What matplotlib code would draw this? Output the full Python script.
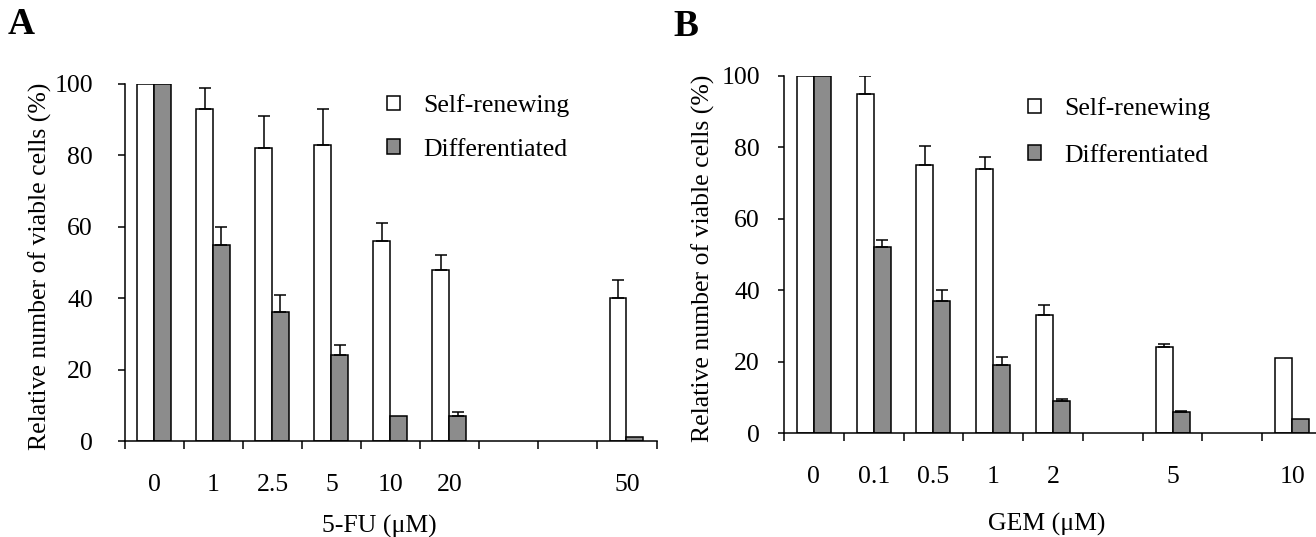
import numpy as np
import matplotlib
matplotlib.use("Agg")
import matplotlib.pyplot as plt
from matplotlib.patches import Patch

plt.rcParams['font.family'] = ['Liberation Serif', 'DejaVu Serif']

# ---------------- data ----------------
cats_a = ["0", "1", "2.5", "5", "10", "20", "", "", "50"]
self_a = [100, 93, 82, 83, 56, 48, None, None, 40]
self_a_err = [0, 6, 9, 10, 5, 4, None, None, 5]
diff_a = [100, 55, 36, 24, 7, 7, None, None, 1]
diff_a_err = [0, 5, 5, 3, 0, 1, None, None, 0]

cats_b = ["0", "0.1", "0.5", "1", "2", "", "5", "", "10"]
self_b = [100, 95, 75, 74, 33, None, 24, None, 21]
self_b_err = [0, 5, 5.3, 3.3, 2.8, None, 1, None, 0]
diff_b = [100, 52, 37, 19, 9, None, 6, None, 3.8]
diff_b_err = [0, 2.2, 3, 2.2, 0.4, None, 0.3, None, 0]

xlabel_a = "5-FU (μM)"
xlabel_b = "GEM (μM)"
ylabel = "Relative number of viable cells (%)"
legend_labels = ["Self-renewing", "Differentiated"]
yticks = [0, 20, 40, 60, 80, 100]

GRAY = '#8c8c8c'
FS = 18.5
LW = 1.1


def draw(ax, cats, s, se, d, de, xlabel, center, lab_x, lab_y, leg_anchor,
         ypad, ylen, lspace):
    n = len(cats)
    w = 0.285
    for i in range(n):
        xc = i + center
        if s[i] is not None:
            ax.bar(xc - w / 2, s[i], w, color='white', edgecolor='black', linewidth=LW, zorder=2)
            if se[i]:
                ax.errorbar(xc - w / 2, s[i], yerr=[[0], [se[i]]], fmt='none', ecolor='black',
                            elinewidth=LW, capsize=4.3, capthick=LW, zorder=3)
        if d[i] is not None:
            ax.bar(xc + w / 2, d[i], w, color=GRAY, edgecolor='black', linewidth=LW, zorder=2)
            if de[i]:
                ax.errorbar(xc + w / 2, d[i], yerr=[[0], [de[i]]], fmt='none', ecolor='black',
                            elinewidth=LW, capsize=4.3, capthick=LW, zorder=3)
    ax.set_xlim(0, n)
    ax.set_ylim(0, 100)
    ax.set_yticks(yticks)
    ax.set_xticks(np.arange(0, n + 1))
    ax.set_xticklabels([])
    ax.set_xticks(np.arange(n) + 0.5, minor=True)
    ax.set_xticklabels(cats, minor=True)
    ax.tick_params(axis='x', which='major', direction='out', length=6, width=LW)
    ax.tick_params(axis='x', which='minor', length=0, pad=24, labelsize=FS)
    ax.tick_params(axis='y', direction='out', length=ylen, width=LW, labelsize=FS, pad=ypad)
    for sp in ['top', 'right']:
        ax.spines[sp].set_visible(False)
    for sp in ['left', 'bottom']:
        ax.spines[sp].set_linewidth(LW)
    ax.set_xlabel(xlabel, fontsize=FS, va='center')
    ax.xaxis.set_label_coords(lab_x, lab_y)
    ax.set_ylabel(ylabel, fontsize=FS, va='center')
    handles = [Patch(facecolor='white', edgecolor='black', linewidth=LW),
               Patch(facecolor=GRAY, edgecolor='black', linewidth=LW)]
    ax.legend(handles, legend_labels, loc='upper left', bbox_to_anchor=leg_anchor,
              frameon=False, fontsize=FS, handlelength=0.5, handleheight=0.5,
              handletextpad=0.9, labelspacing=lspace, borderpad=0, borderaxespad=0)


fig = plt.figure(figsize=(13.16, 5.37), dpi=100)
W, H = 1316, 537
axA = fig.add_axes([125 / W, (H - 441) / H, 531.5 / W, 357 / H])
axB = fig.add_axes([784 / W, (H - 433) / H, 538 / W, 357 / H])

draw(axA, cats_a, self_a, self_a_err, diff_a, diff_a_err, xlabel_a, 0.49,
     0.478, -0.238, ((387 - 125) / 531.5, (441 - 94) / 357), 18, 5, 0.84)
axA.yaxis.set_label_coords((40 - 125) / 531.5, 0.49)
draw(axB, cats_b, self_b, self_b_err, diff_b, diff_b_err, xlabel_b, 0.5,
     0.489, -0.255, ((1028 - 784) / 538, (433 - 97) / 357), 13, 4.3, 0.96)
axB.yaxis.set_label_coords((703 - 784) / 538, 0.49)

fig.text(21 / W, 1 - 25 / H, "A", fontsize=27, fontweight='bold', ha='center', va='center')
fig.text(686 / W, 1 - 26 / H, "B", fontsize=27, fontweight='bold', ha='center', va='center')

fig.savefig("out.png", dpi=100)
